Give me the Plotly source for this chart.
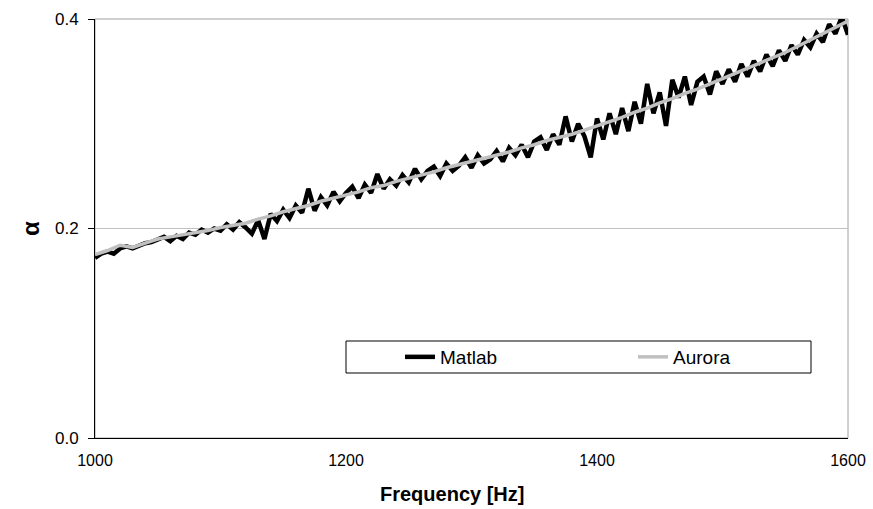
import plotly.graph_objects as go

# ---- data ----
matlab_freq = list(range(1000, 1601, 5))
matlab_alpha = [
    .172, .176, .178, .176, .181, .183, .181, .184, .186, .187,
    .189, .192, .188, .193, .190, .196, .194, .199, .196, .200,
    .198, .204, .199, .206, .201, .195, .208, .190, .214, .207,
    .218, .210, .222, .215, .238, .217, .230, .222, .235, .226,
    .234, .240, .229, .242, .234, .252, .238, .247, .241, .251,
    .244, .257, .247, .255, .259, .250, .262, .255, .260, .268,
    .258, .270, .262, .266, .274, .264, .277, .270, .280, .268,
    .283, .287, .275, .290, .280, .307, .283, .300, .288, .268,
    .305, .285, .310, .290, .315, .293, .321, .300, .338, .310,
    .330, .298, .342, .325, .345, .318, .340, .345, .328, .350,
    .338, .352, .340, .357, .345, .360, .350, .366, .355, .370,
    .360, .375, .366, .380, .373, .386, .378, .395, .386, .402,
    .385,
]

aurora_freq = list(range(1000, 1601, 10))
aurora_alpha = [
    .175, .179, .184, .182, .186, .190, .192, .194, .196, .198,
    .201, .203, .205, .209, .212, .216, .219, .222, .226, .229,
    .232, .235, .239, .241, .245, .248, .251, .254, .258, .261,
    .264, .267, .270, .273, .277, .280, .284, .287, .290, .294,
    .298, .302, .306, .311, .315, .320, .324, .329, .333, .338,
    .343, .348, .353, .358, .363, .368, .374, .380, .386, .392,
    .398,
]

x_ticks = [1000, 1200, 1400, 1600]
y_ticks = [0.0, 0.2, 0.4]

FONT = "Liberation Sans, Arial, sans-serif"

fig = go.Figure()
fig.add_trace(go.Scatter(x=matlab_freq, y=matlab_alpha, mode="lines", name="Matlab",
                         line=dict(color="#000000", width=4.5)))
fig.add_trace(go.Scatter(x=aurora_freq, y=aurora_alpha, mode="lines", name="Aurora",
                         line=dict(color="#c0c0c0", width=3.5)))

# gray frame (top/right) of plot area
fig.add_shape(type="rect", xref="paper", yref="paper", x0=0, x1=1, y0=0, y1=1,
              line=dict(color="#a0a0a0", width=1), layer="below")
# legend box
fig.add_shape(type="rect", xref="paper", yref="paper",
              x0=(346 - 95) / 753, x1=(811 - 95) / 753,
              y0=(438 - 373) / 419, y1=(438 - 341) / 419,
              line=dict(color="#000000", width=1), fillcolor="white", layer="above")

# x-axis title (offset left as in the reference)
fig.add_annotation(text="<b>Frequency [Hz]</b>", xref="paper", yref="paper",
                   x=(452 - 95) / 753, y=(438 - 494) / 419,
                   xanchor="center", yanchor="middle", showarrow=False,
                   font=dict(family=FONT, size=20, color="#000000"))

fig.update_layout(
    width=873, height=509,
    margin=dict(l=95, r=25, t=19, b=71, autoexpand=False),
    paper_bgcolor="white", plot_bgcolor="white",
    font=dict(family=FONT, size=16, color="#000000"),
    showlegend=True,
    legend=dict(orientation="h", x=(400 - 95) / 753, y=(438 - 357) / 419,
                xanchor="left", yanchor="middle",
                entrywidth=188, entrywidthmode="pixels",
                bgcolor="rgba(0,0,0,0)", borderwidth=0,
                font=dict(family=FONT, size=19, color="#000000"),
                itemwidth=30),
    xaxis=dict(range=[1000, 1600], tickvals=x_ticks, ticks="", showgrid=False,
               showline=True, linecolor="#000000", linewidth=1, zeroline=False,
               ticklabelstandoff=8,
               tickfont=dict(size=16)),
    yaxis=dict(range=[0, 0.4], tickvals=y_ticks, tickformat=".1f",
               ticks="outside", ticklen=6, tickcolor="#000000",
               showgrid=True, gridcolor="#c0c0c0", gridwidth=1,
               showline=True, linecolor="#000000", linewidth=1, zeroline=False,
               ticklabelstandoff=6,
               tickfont=dict(size=17),
               title=dict(text="<b>α</b>", font=dict(size=24), standoff=8)),
)

fig.write_html("out.html", config={"displayModeBar": False},
               post_script="document.body.style.margin='0';")
